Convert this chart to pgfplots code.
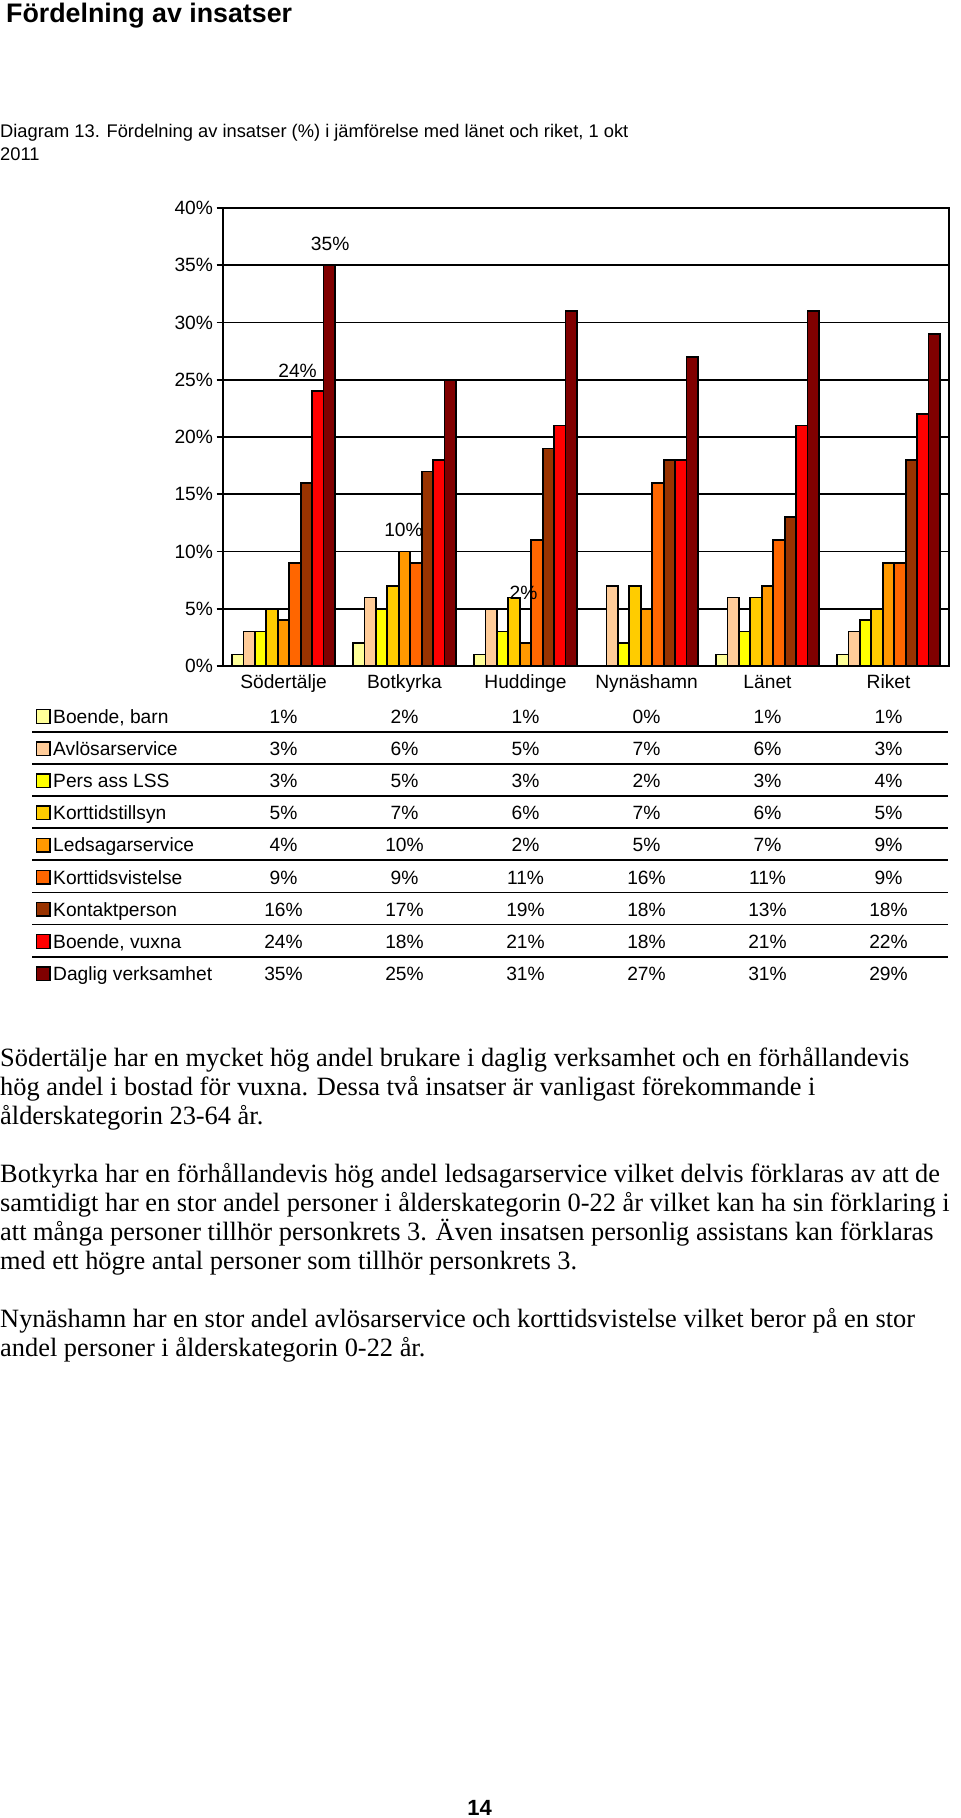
\documentclass[border=0pt]{standalone}
\usepackage{pgfplots}
\pgfplotsset{compat=1.18}
\usepackage{pgfplotstable}
\usepackage{fontspec}
\setmainfont{Liberation Serif}
\newfontfamily\arial{Liberation Sans}
\definecolor{b1}{HTML}{FFFF99}
\definecolor{b2}{HTML}{FFCC99}
\definecolor{b3}{HTML}{FFFF00}
\definecolor{b4}{HTML}{FFCC00}
\definecolor{b5}{HTML}{FF9900}
\definecolor{b6}{HTML}{FF6600}
\definecolor{b7}{HTML}{993300}
\definecolor{b8}{HTML}{FF0000}
\definecolor{b9}{HTML}{800000}
\newcommand\chartfont{\arial\fontsize{19.2bp}{22bp}\selectfont}
\newcommand\bodyfont{\fontsize{26.4bp}{29bp}\selectfont}
\pgfplotstableread{
x b1 b2 b3 b4 b5 b6 b7 b8 b9
0 1 3 3 5 4 9 16 24 35
1 2 6 5 7 10 9 17 18 25
2 1 5 3 6 2 11 19 21 31
3 0 7 2 7 5 16 18 18 27
4 1 6 3 6 7 11 13 21 31
5 1 3 4 5 9 9 18 22 29
}\data
\begin{document}
\begin{tikzpicture}[x=1bp,y=1bp]
\path[use as bounding box] (0,0) rectangle (960,-1818);
% title and caption
\node[anchor=base west, inner sep=0, font=\arial\bfseries\fontsize{26.8bp}{30bp}\selectfont] at (6,-22) {Fördelning av insatser};
\node[anchor=base west, inner sep=0, font=\arial\fontsize{18.3bp}{21bp}\selectfont] at (0,-137) {Diagram 13. Fördelning av insatser (\%) i jämförelse med länet och riket, 1 okt};
\node[anchor=base west, inner sep=0, font=\arial\fontsize{18.3bp}{21bp}\selectfont] at (0,-160) {2011};
\begin{axis}[
  at={(223bp,-666bp)}, anchor=south west, scale only axis,
  width=726bp, height=458bp,
  xmin=-0.5, xmax=5.5, ymin=0, ymax=40, enlargelimits=false,
  ybar=0pt, bar width=11.48bp,
  axis line style={line width=2bp, black},
  ymajorgrids, grid style={line width=1.6bp, black},
  ytick={0,5,...,40}, ytick pos=left,
  yticklabel={\pgfmathprintnumber{\tick}\%},
  /pgf/number format/assume math mode=true,
  major tick length=6.5bp, tick align=outside,
  ytick style={line width=1.6bp, black},
  xtick={0,...,5},
  xticklabels={Södertälje,Botkyrka,Huddinge,Nynäshamn,Länet,Riket},
  xtick style={draw=none},
  tick label style={font=\chartfont},
  xticklabel style={anchor=base, yshift=-16bp},
  every axis plot/.append style={draw=black, line width=1.6bp},
]
\addplot[fill=b1] table[x=x,y=b1]{\data};
\addplot[fill=b2] table[x=x,y=b2]{\data};
\addplot[fill=b3] table[x=x,y=b3]{\data};
\addplot[fill=b4] table[x=x,y=b4]{\data};
\addplot[fill=b5] table[x=x,y=b5]{\data};
\addplot[fill=b6] table[x=x,y=b6]{\data};
\addplot[fill=b7] table[x=x,y=b7]{\data};
\addplot[fill=b8] table[x=x,y=b8]{\data};
\addplot[fill=b9] table[x=x,y=b9]{\data};
\node[font=\chartfont] at (axis cs:0.386,36.83) {35\%};
\node[font=\chartfont] at (axis cs:0.116,25.79) {24\%};
\node[font=\chartfont] at (axis cs:0.992,11.88) {10\%};
\node[font=\chartfont] at (axis cs:1.983,6.35) {2\%};
\end{axis}
% data table
\foreach \k in {0,...,7}{
  \draw[line width=1.8bp] (32,{-(731.7+32.14*\k)}) -- (948,{-(731.7+32.14*\k)});
}
\foreach \r/\lab [count=\i from 0] in {b1/{Boende, barn},b2/Avlösarservice,b3/Pers ass LSS,b4/Korttidstillsyn,b5/Ledsagarservice,b6/Korttidsvistelse,b7/Kontaktperson,b8/{Boende, vuxna},b9/Daglig verksamhet}{
  \pgfmathsetmacro\yc{-(716.5+32.14*\i)}
  \draw[fill=\r, line width=1.4bp] (36.5,\yc-6.8) rectangle (50,\yc+6.8);
  \node[anchor=base west, inner sep=0, font=\chartfont] at (53,\yc-6.8) {\lab};
  \foreach \c in {0,...,5}{
    \pgfplotstablegetelem{\c}{\r}\of\data
    \node[anchor=base, inner sep=0, font=\chartfont] at ({283.5+121*\c},\yc-6.8) {\pgfplotsretval\%};
  }
}
% body text
\begin{scope}[every node/.style={anchor=base west, inner sep=0, font=\bodyfont}]
\node at (0,-1066) {Södertälje har en mycket hög andel brukare i daglig verksamhet och en förhållandevis};
\node at (0,-1095) {hög andel i bostad för vuxna. Dessa två insatser är vanligast förekommande i};
\node at (0,-1124.5) {ålderskategorin 23-64 år.};
\node at (0,-1182) {Botkyrka har en förhållandevis hög andel ledsagarservice vilket delvis förklaras av att de};
\node at (0,-1211) {samtidigt har en stor andel personer i ålderskategorin 0-22 år vilket kan ha sin förklaring i};
\node at (0,-1240) {att många personer tillhör personkrets 3. Även insatsen personlig assistans kan förklaras};
\node at (0,-1269) {med ett högre antal personer som tillhör personkrets 3.};
\node at (0,-1327) {Nynäshamn har en stor andel avlösarservice och korttidsvistelse vilket beror på en stor};
\node at (0,-1356) {andel personer i ålderskategorin 0-22 år.};
\end{scope}
\node[anchor=base, inner sep=0, font=\arial\bfseries\fontsize{22bp}{26bp}\selectfont] at (479.5,-1815) {14};
\end{tikzpicture}
\end{document}
